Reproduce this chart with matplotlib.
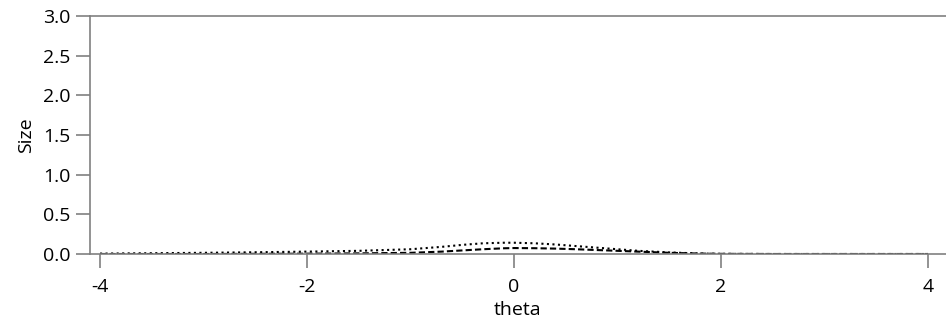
import matplotlib
matplotlib.use("Agg")
import matplotlib.pyplot as plt
import numpy as np

# theta grid and the two curves
theta = [-4.0, -3.5, -3.0, -2.5, -2.0, -1.5, -1.0, -0.7, -0.5, -0.3, -0.1, 0.0,
         0.2, 0.4, 0.6, 0.8, 1.0, 1.2, 1.5, 1.8, 2.0, 2.5, 3.0, 3.5, 4.0]
size_dotted = [0.005, 0.01, 0.015, 0.022, 0.03, 0.04, 0.06, 0.09, 0.115, 0.135, 0.142, 0.142,
               0.135, 0.12, 0.1, 0.08, 0.06, 0.04, 0.02, 0.006, 0.002, 0.0, 0.0, 0.0, 0.0]
size_dashed = [0.0, 0.0, 0.0, 0.002, 0.004, 0.008, 0.015, 0.03, 0.045, 0.06, 0.072, 0.075,
               0.073, 0.068, 0.06, 0.05, 0.04, 0.03, 0.015, 0.005, 0.002, 0.0, 0.0, 0.0, 0.0]

xticks = [-4, -2, 0, 2, 4]
yticks = [0.0, 0.5, 1.0, 1.5, 2.0, 2.5, 3.0]

plt.rcParams['font.family'] = ['Open Sans', 'DejaVu Sans']

fig = plt.figure(figsize=(9.46, 3.26), dpi=100)
ax = fig.add_axes([90 / 946, 72 / 326, 1 - 90 / 946, 238 / 326])

ax.plot(theta, size_dotted, color='k', ls=':', lw=1.5)
ax.plot(theta, size_dashed, color='k', ls=(0, (3, 1.5)), lw=1.5)

ax.set_xlim(-4.097, 4.174)
ax.set_ylim(0, 3.0)
ax.set_xticks(xticks)
ax.set_xticklabels([str(t) for t in xticks])
ax.set_yticks(yticks)
ax.set_yticklabels(['%.1f' % t for t in yticks])

for s in ['left', 'bottom', 'top']:
    ax.spines[s].set_color('#808080')
    ax.spines[s].set_linewidth(1.2)
ax.spines['right'].set_visible(False)
ax.tick_params(axis='both', direction='out', length=10, width=1.2, color='#808080',
               labelsize=14, labelcolor='k')
ax.tick_params(axis='x', pad=7)
ax.tick_params(axis='y', pad=4)

ax.set_xlabel('theta', fontsize=14, labelpad=4)
ax.set_ylabel('Size', fontsize=14, labelpad=6)

fig.savefig('out.png', dpi=100)
